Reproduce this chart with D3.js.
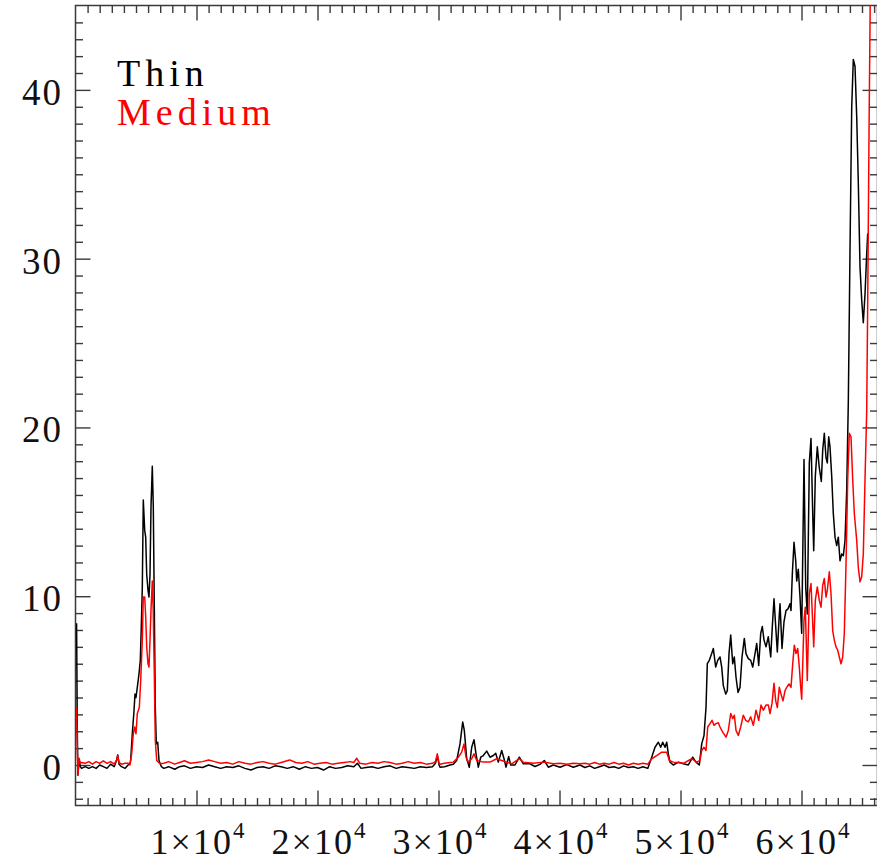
<!DOCTYPE html>
<html><head><meta charset="utf-8">
<script src="https://cdn.jsdelivr.net/npm/d3@7"></script>
<style>body{margin:0;background:#fff}svg{display:block}</style></head>
<body><svg id="c" width="877" height="863"></svg>
<script>
// ---- data ----
const thin = [
[90,8.4],[150,2.0],[200,-0.6],[300,0.3],[400,-0.1],[500,-0.2],[800,-0.1],[1100,-0.2],[1400,-0.1],[1700,-0.2],[2000,0.0],[2300,-0.1],[2600,-0.2],[2900,0.05],[3200,-0.1],[3400,0.3],[3490,0.6],[3600,0.05],[3800,-0.1],[4100,-0.2],[4350,0.0],
[4504,0.1],[4562,0.3],[4694,1.85],[4834,3.2],[4917,4.2],[5000,4.0],[5107,4.6],[5248,5.4],[5355,6.2],[5438,8.2],[5521,10.5],[5603,15.7],[5719,13.9],[5801,13.5],[5884,11.3],[5992,10.35],[6074,9.95],[6157,11.3],[6240,15.3],[6347,17.7],[6430,15.3],[6512,9.4],[6595,3.4],[6678,1.25],[6793,1.35],[6901,0.27],
[7100,-0.1],[7300,-0.2],[7700,-0.1],[8200,-0.25],[8600,-0.1],[9000,-0.05],[9500,-0.2],[10000,-0.1],[10500,-0.15],[11000,0.0],[11500,-0.1],[12000,-0.2],[12500,-0.1],[13000,-0.15],[13500,-0.05],[14000,-0.2],[14500,-0.3],[15000,-0.15],[15500,-0.1],[16000,-0.2],[16500,-0.05],[17000,-0.1],[17500,-0.2],[18000,-0.1],[18500,-0.25],[19000,-0.1],[19500,-0.2],[20000,-0.15],[20500,-0.3],[21000,-0.1],[21500,-0.2],[22000,-0.15],[22500,-0.05],[23000,-0.1],[23300,0.1],[23600,-0.2],[24000,-0.15],[24500,-0.1],[25000,-0.2],[25500,-0.1],[26000,-0.05],[26500,-0.2],[27000,-0.1],[27500,-0.15],[28000,-0.2],[28500,-0.1],[29000,-0.15],[29500,-0.1],[29750,0.1],[29900,0.55],[30050,0.0],
[30124,-0.13],[30500,-0.1],[30950,0.0],[31223,0.05],[31504,0.27],[31777,1.25],[32000,2.55],[32132,2.05],[32331,0.37],[32545,-0.13],[32744,1.05],[32934,1.5],[33099,0.66],[33289,-0.13],[33488,0.46],[33702,0.56],[33983,0.82],[34256,0.46],[34529,0.56],[34727,0.7],[34942,0.17],[35223,0.86],[35413,0.37],[35579,-0.13],[35802,0.5],[35967,0.0],[36322,0.0],[36678,0.46],[37008,0.07],[37562,0.07],[37975,-0.09],[38388,0.04],[38744,0.27],[39074,-0.13],[39488,0.0],[40041,-0.13],[40595,0.02],[41140,-0.13],
[41694,0.0],[42100,-0.15],[42500,-0.05],[42900,-0.2],[43300,-0.1],[43700,0.0],[44100,-0.15],[44500,-0.1],[44900,-0.2],[45300,-0.05],[45700,-0.15],[46100,-0.1],[46500,-0.2],[46900,-0.1],[47300,-0.2],
[47620,0.46],[47893,1.05],[48165,1.35],[48364,1.05],[48529,1.35],[48719,1.05],[48860,1.35],[48992,0.66],[49132,0.17],[49405,0.0],[49818,0.17],[50231,0.07],[50645,0.0],[51008,0.46],[51281,0.17],[51554,0.0],
[51752,1.25],[51942,1.75],[52107,3.4],[52215,6.0],[52380,6.2],[52578,6.6],[52711,6.9],[52909,5.8],[53074,6.2],[53264,6.4],[53405,5.8],[53537,4.7],[53736,4.2],[53868,4.4],[54008,6.6],[54149,7.7],[54314,6.0],[54446,6.4],[54587,5.2],[54752,4.3],[54917,4.6],[55083,6.4],[55273,7.5],[55413,6.6],[55603,6.3],[55802,6.2],[55967,5.8],[56157,6.6],[56298,7.2],[56463,5.9],[56628,7.8],[56760,8.2],[56901,7.4],[57066,7.0],[57256,7.6],[57455,6.4],[57587,8.2],[57727,9.85],[57868,8.2],[58000,6.7],[58140,8.6],[58223,9.55],[58388,6.9],[58554,8.5],[58719,9.15],[58884,9.25],[59050,9.55],[59132,9.15],[59240,11.3],[59380,13.2],[59521,12.1],[59603,10.9],[59735,11.6],[59876,9.95],[60016,7.8],
[60207,18.1],[60347,10.5],[60479,8.95],[60645,17.9],[60785,19.35],[60926,14.9],[61008,12.7],[61140,17.1],[61306,18.85],[61471,17.6],[61636,16.8],[61752,18.65],[61884,19.65],[62025,18.2],[62132,17.9],[62248,19.45],[62355,18.85],[62496,17.1],[62628,14.9],[62769,13.5],[62909,13.0],[63041,13.5],[63182,12.1],[63322,12.5],[63455,12.4],[63595,13.3],[63736,16.3],[63868,21.5],[64008,30.5],[64149,39.0],[64281,41.8],[64421,41.4],[64562,38.4],[64694,34.5],[64835,29.5],[64975,27.55],[65107,26.2],[65248,27.9],[65389,30.3],[65472,31.5]
];
const medium = [
[90,3.4],[150,1.0],[200,-0.6],[300,0.4],[400,0.1],[500,0.15],[800,0.1],[1100,0.2],[1400,0.05],[1700,0.2],[2000,0.1],[2300,0.25],[2600,0.1],[2900,0.2],[3200,0.05],[3400,0.3],[3490,0.55],[3600,0.15],[3800,0.05],[4100,0.1],[4350,0.1],
[4504,0.0],[4644,0.66],[4777,1.85],[4893,2.25],[5000,1.85],[5107,3.05],[5273,3.4],[5388,5.0],[5521,7.4],[5603,9.95],[5719,9.95],[5801,8.8],[5884,7.0],[5992,6.0],[6074,5.8],[6157,7.4],[6240,9.2],[6347,10.9],[6430,9.0],[6512,5.4],[6595,1.45],[6711,0.27],[6983,0.07],
[7300,0.1],[7700,0.2],[8200,0.05],[8600,0.15],[9000,0.25],[9500,0.1],[10000,0.15],[10500,0.2],[11000,0.3],[11500,0.2],[12000,0.1],[12500,0.15],[13000,0.05],[13500,0.2],[14000,0.1],[14500,0.05],[15000,0.15],[15500,0.2],[16000,0.1],[16500,0.05],[17000,0.15],[17700,0.3],[18200,0.15],[18700,0.1],[19200,0.2],[19700,0.05],[20200,0.1],[20700,0.15],[21200,0.05],[21700,0.1],[22200,0.15],[22700,0.2],[23000,0.15],[23240,0.4],[23500,0.1],[24000,0.05],[24500,0.15],[25000,0.1],[25500,0.2],[26000,0.15],[26500,0.05],[27000,0.1],[27500,0.2],[28000,0.1],[28500,0.15],[29000,0.05],[29500,0.1],[29750,0.2],[29900,0.66],[30050,0.1],
[30124,0.04],[30500,0.1],[30950,0.15],[31223,0.17],[31636,0.46],[31917,0.76],[32107,1.25],[32273,0.46],[32463,0.17],[32744,0.37],[32934,0.66],[33157,0.27],[33702,0.17],[34256,0.17],[34810,0.37],[35223,0.27],[35636,0.17],[36050,0.07],[36678,0.37],[37008,0.17],[37835,0.1],[38744,0.17],[39488,0.07],[40041,0.1],[40595,0.05],[41140,0.1],
[41694,0.07],[42100,0.1],[42500,0.05],[42900,0.15],[43300,0.05],[43700,0.1],[44100,0.05],[44500,0.15],[44900,0.05],[45300,0.1],[45700,0.0],[46100,0.1],[46500,0.05],[46900,0.1],[47300,0.05],
[47620,0.37],[48033,0.56],[48446,0.76],[48860,0.76],[49074,0.27],[49405,0.17],[50231,0.1],[50926,0.37],[51339,0.17],
[51612,0.27],[51752,0.86],[51942,1.05],[52107,0.86],[52248,2.25],[52438,2.45],[52603,2.65],[52769,2.35],[52934,2.45],[53124,2.5],[53264,2.25],[53488,1.95],[53760,1.65],[53950,2.05],[54149,3.05],[54314,2.75],[54446,2.95],[54587,2.05],[54777,1.75],[54975,2.25],[55190,2.95],[55388,2.65],[55603,2.55],[55802,2.85],[56017,2.35],[56240,3.25],[56463,2.65],[56653,3.55],[56843,3.25],[57066,3.55],[57256,3.55],[57397,3.05],[57562,3.65],[57727,4.85],[57868,3.8],[58000,3.4],[58165,4.6],[58306,4.2],[58471,3.8],[58636,4.4],[58777,4.6],[58967,4.8],[59132,4.6],[59273,6.0],[59405,7.1],[59545,6.6],[59686,6.9],[59818,5.8],[59934,4.6],[60016,3.9],
[60207,8.6],[60314,9.35],[60479,5.0],[60645,10.15],[60785,10.75],[60893,8.95],[61008,7.0],[61140,9.75],[61306,10.55],[61471,9.75],[61612,9.35],[61752,10.65],[61884,11.05],[62025,9.95],[62132,10.35],[62297,11.45],[62438,10.15],[62578,7.95],[62711,7.4],[62851,7.0],[62992,6.8],[63124,6.4],[63265,6.0],[63405,6.4],[63537,7.8],[63678,11.9],[63818,16.9],[63950,19.65],[64091,19.45],[64231,16.9],[64364,14.9],[64562,13.3],[64694,11.7],[64835,10.85],[64975,11.15],[65107,12.5],[65248,16.9],[65389,21.0],[65472,27.55],[65579,37.45],[65700,47]
];
const yMajor = [0, 10, 20, 30, 40];
const xMajor = [10000, 20000, 30000, 40000, 50000, 60000];
const xMantissa = ["1", "2", "3", "4", "5", "6"];
const xExponent = "4";
const seriesNames = ["Thin", "Medium"];
const seriesColors = ["#000000", "#ff0000"];

// ---- layout ----
const x = d3.scaleLinear().domain([0, 66280]).range([75.5, 877.5]);
const y = d3.scaleLinear().domain([-2.4, 45]).range([805.5, 5.5]);
const svg = d3.select("#c");
const font = "'Liberation Serif', 'Times New Roman', serif";
const axisColor = "#3a3a3a";
const x0 = x(0), x1 = x(66280), y0 = y(-2.4), y1 = y(45);

svg.append("defs").append("clipPath").attr("id", "clip")
  .append("rect").attr("x", x0).attr("y", y1).attr("width", x1 - x0).attr("height", y0 - y1);

// frame first so the curves stay visible at the left edge
svg.append("rect").attr("x", x0).attr("y", y1).attr("width", x1 - x0).attr("height", y0 - y1)
  .attr("fill", "none").attr("stroke", axisColor).attr("stroke-width", 1.5);

const xMinor = d3.range(1000, 66001, 1000).filter(v => v % 10000 !== 0);
const yMinor = d3.range(-2, 45, 1).filter(v => v % 10 !== 0);
function styleAxis(sel) {
  sel.select(".domain").remove();
  sel.selectAll(".tick line").attr("stroke", axisColor).attr("stroke-width", 1.4);
  sel.selectAll(".tick text").remove();
}
svg.append("g").attr("transform", `translate(0,${y0})`).call(d3.axisBottom(x).tickValues(xMinor).tickSize(-7.5).tickFormat("")).call(styleAxis);
svg.append("g").attr("transform", `translate(0,${y0})`).call(d3.axisBottom(x).tickValues(xMajor).tickSize(-15).tickFormat("")).call(styleAxis);
svg.append("g").attr("transform", `translate(0,${y1})`).call(d3.axisTop(x).tickValues(xMinor).tickSize(-7.5).tickFormat("")).call(styleAxis);
svg.append("g").attr("transform", `translate(0,${y1})`).call(d3.axisTop(x).tickValues(xMajor).tickSize(-15).tickFormat("")).call(styleAxis);
svg.append("g").attr("transform", `translate(${x0},0)`).call(d3.axisLeft(y).tickValues(yMinor).tickSize(-7.5).tickFormat("")).call(styleAxis);
svg.append("g").attr("transform", `translate(${x0},0)`).call(d3.axisLeft(y).tickValues(yMajor).tickSize(-15).tickFormat("")).call(styleAxis);
svg.append("g").attr("transform", `translate(${x1},0)`).call(d3.axisRight(y).tickValues(yMinor).tickSize(-7.5).tickFormat("")).call(styleAxis);
svg.append("g").attr("transform", `translate(${x1},0)`).call(d3.axisRight(y).tickValues(yMajor).tickSize(-15).tickFormat("")).call(styleAxis);

const line = d3.line().x(d => x(d[0])).y(d => y(d[1]));
const g = svg.append("g").attr("clip-path", "url(#clip)");
g.append("path").datum(thin).attr("d", line).attr("fill", "none").attr("stroke", seriesColors[0]).attr("stroke-width", 1.5).attr("stroke-linejoin", "round");
g.append("path").datum(medium).attr("d", line).attr("fill", "none").attr("stroke", seriesColors[1]).attr("stroke-width", 1.5).attr("stroke-linejoin", "round");

// y labels
svg.append("g").selectAll("text").data(yMajor).join("text")
  .attr("x", 63).attr("y", d => y(d) + 15)
  .attr("text-anchor", "end").attr("font-family", font).attr("font-size", 37)
  .attr("letter-spacing", 2).attr("fill", "#111").text(d => d);

// x labels
const xl = svg.append("g").selectAll("text").data(xMajor).join("text")
  .attr("x", d => x(d) + 2).attr("y", 854)
  .attr("text-anchor", "middle").attr("font-family", font).attr("font-size", 36)
  .attr("letter-spacing", 2).attr("fill", "#111");
xl.append("tspan").text((d, i) => xMantissa[i] + "\u00d710");
xl.append("tspan").attr("dy", -16).attr("font-size", 23).text(xExponent);

// legend
svg.append("g").selectAll("text").data(seriesNames).join("text")
  .attr("x", 117).attr("y", (d, i) => 86 + i * 39)
  .attr("font-family", font).attr("font-size", 38).attr("letter-spacing", 5)
  .attr("fill", (d, i) => seriesColors[i]).text(d => d);
</script></body></html>
